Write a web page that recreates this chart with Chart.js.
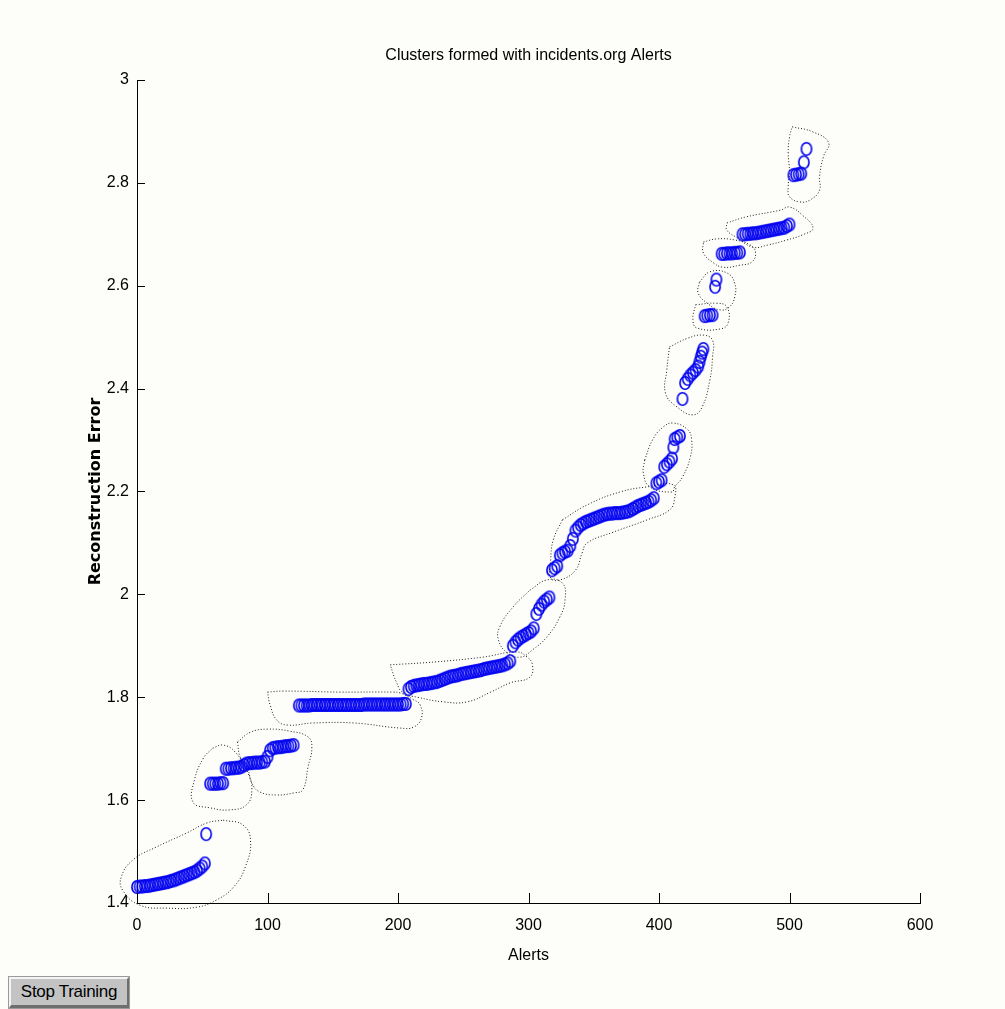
<!DOCTYPE html>
<html>
<head>
<meta charset="utf-8">
<title>Clusters formed with incidents.org Alerts</title>
<script src="https://cdn.jsdelivr.net/npm/chart.js@4"></script>
<style>
  html, body { margin: 0; padding: 0; background: #fdfdf9; }
  #wrap { position: relative; width: 1005px; height: 1009px; overflow: hidden; }
  #chart { position: absolute; left: 0; top: 0; }
  #stopBtn {
    position: absolute; left: 9px; top: 977px; width: 116px; height: 26px;
    background: #c3c3c3; color: #000;
    border-top: 2px solid #f4f4f4; border-left: 2px solid #f4f4f4;
    border-right: 2px solid #6e6e6e; border-bottom: 3px solid #6e6e6e;
    outline: 1px solid #9a9a9a;
    font: 17px "Liberation Sans", Arial, sans-serif;
    line-height: 26px; text-align: center; letter-spacing: -0.3px;
  }
</style>
</head>
<body>
<div id="wrap">
  <canvas id="chart" width="1005" height="1009"></canvas>
  <div id="stopBtn">Stop Training</div>
</div>
<script>
// alerts (x) vs reconstruction error (y), one group per cluster
const cluster1 = [[0,1.431],[2,1.432],[4,1.432],[6,1.433],[8,1.433],[10,1.434],[12,1.435],[14,1.436],[16,1.437],[18,1.438],[20,1.439],[22,1.440],[24,1.441],[26,1.443],[28,1.444],[30,1.446],[32,1.448],[34,1.450],[36,1.452],[38,1.454],[40,1.456],[42,1.458],[44,1.460],[46,1.463],[48,1.467],[50,1.471],[52,1.477],[53,1.534]];
const cluster2 = [[56,1.632],[58,1.632],[60,1.632],[62,1.632],[64,1.633],[66,1.633],[68,1.661],[70,1.661],[72,1.662],[74,1.662],[76,1.663],[78,1.663],[80,1.665],[82,1.668],[84,1.671],[86,1.672],[88,1.672],[90,1.673],[92,1.673],[94,1.673],[96,1.674],[98,1.675],[100,1.684],[102,1.697],[104,1.701],[106,1.702],[108,1.703],[110,1.703],[112,1.704],[114,1.705],[116,1.705],[118,1.706],[120,1.707]];
const cluster3 = [[124,1.784],[126,1.784],[128,1.784],[130,1.784],[132,1.784],[134,1.785],[136,1.785],[138,1.785],[140,1.785],[142,1.785],[144,1.785],[146,1.785],[148,1.785],[150,1.785],[152,1.785],[154,1.785],[156,1.785],[158,1.785],[160,1.785],[162,1.785],[164,1.785],[166,1.785],[168,1.785],[170,1.785],[172,1.785],[174,1.786],[176,1.786],[178,1.786],[180,1.786],[182,1.786],[184,1.786],[186,1.786],[188,1.786],[190,1.786],[192,1.786],[194,1.786],[196,1.786],[198,1.786],[200,1.786],[202,1.786],[204,1.787],[206,1.787]];
const cluster4 = [[208,1.816],[210,1.820],[212,1.822],[214,1.823],[216,1.824],[218,1.825],[220,1.826],[222,1.826],[224,1.827],[226,1.828],[228,1.829],[230,1.830],[232,1.832],[234,1.834],[236,1.836],[238,1.838],[240,1.840],[242,1.841],[244,1.842],[246,1.843],[248,1.845],[250,1.846],[252,1.847],[254,1.848],[256,1.849],[258,1.850],[260,1.851],[262,1.852],[264,1.853],[266,1.855],[268,1.856],[270,1.857],[272,1.858],[274,1.859],[276,1.860],[278,1.861],[280,1.862],[282,1.864],[284,1.866],[286,1.870]];
const cluster5 = [[288,1.900],[290,1.907],[292,1.912],[294,1.916],[296,1.919],[298,1.922],[300,1.925],[302,1.928],[304,1.934],[306,1.962],[308,1.972],[310,1.980],[312,1.986],[314,1.990],[316,1.994]];
const cluster6 = [[318,2.047],[320,2.051],[322,2.055],[324,2.076],[326,2.080],[328,2.083],[330,2.085],[332,2.094],[334,2.108],[336,2.124],[338,2.130],[340,2.135],[342,2.138],[344,2.141],[346,2.143],[348,2.145],[350,2.147],[352,2.149],[354,2.151],[356,2.153],[358,2.155],[360,2.156],[362,2.157],[364,2.157],[366,2.158],[368,2.158],[370,2.158],[372,2.159],[374,2.160],[376,2.161],[378,2.163],[380,2.166],[382,2.169],[384,2.172],[386,2.174],[388,2.176],[390,2.178],[392,2.180],[394,2.183],[396,2.187]];
const cluster7 = [[398,2.216],[400,2.219],[402,2.222],[404,2.248],[406,2.253],[408,2.258],[410,2.264],[411,2.286],[412,2.302],[414,2.305],[416,2.308]];
const cluster8 = [[418,2.380],[420,2.411],[422,2.419],[424,2.426],[426,2.431],[428,2.436],[430,2.443],[431,2.452],[432,2.462],[433,2.470],[434,2.477]];
const cluster9 = [[435,2.541],[437,2.542],[439,2.543],[441,2.543]];
const cluster10 = [[443,2.598],[444,2.612]];
const cluster11 = [[448,2.662],[450,2.662],[452,2.663],[454,2.663],[456,2.663],[458,2.664],[460,2.664],[462,2.665]];
const cluster12 = [[464,2.700],[466,2.700],[468,2.701],[470,2.701],[472,2.702],[474,2.702],[476,2.703],[478,2.704],[480,2.705],[482,2.706],[484,2.707],[486,2.708],[488,2.709],[490,2.710],[492,2.711],[494,2.712],[496,2.713],[498,2.716],[500,2.719]];
const cluster13 = [[503,2.815],[505,2.816],[507,2.817],[509,2.818],[511,2.840],[513,2.866]];

// dotted cluster boundaries, also in (alerts, error) units
const outlineA = [[66,1.561],[81,1.552],[87,1.522],[83,1.470],[74,1.431],[61,1.406],[46,1.392],[23,1.390],[2,1.396],[-11,1.425],[-12,1.451],[-3,1.484],[15,1.509],[38,1.536],[54,1.556]];
const outlineB = [[58,1.701],[66,1.707],[75,1.694],[85,1.653],[88,1.620],[84,1.591],[71,1.581],[56,1.585],[43,1.596],[44,1.639],[51,1.682]];
const outlineC = [[77,1.713],[87,1.732],[100,1.738],[117,1.734],[131,1.723],[134,1.703],[131,1.664],[127,1.620],[120,1.614],[107,1.610],[94,1.616],[88,1.633],[85,1.659],[79,1.684]];
const outlineD = [[100,1.810],[112,1.812],[156,1.810],[196,1.810],[202,1.808],[212,1.795],[217,1.785],[218,1.760],[212,1.742],[202,1.740],[166,1.750],[135,1.750],[115,1.746],[107,1.756],[102,1.785]];
const outlineE = [[194,1.863],[230,1.869],[265,1.878],[291,1.888],[299,1.878],[303,1.863],[301,1.839],[286,1.828],[271,1.810],[253,1.791],[235,1.791],[215,1.800],[204,1.808],[199,1.828]];
const outlineF = [[301,2.008],[314,2.028],[326,2.022],[328,1.989],[324,1.956],[314,1.917],[303,1.892],[294,1.878],[284,1.886],[277,1.911],[278,1.937],[288,1.975]];
const outlineG = [[326,2.145],[345,2.174],[370,2.199],[391,2.209],[411,2.213],[412,2.187],[408,2.164],[391,2.145],[365,2.121],[345,2.100],[341,2.080],[336,2.047],[324,2.028],[317,2.032],[317,2.067],[319,2.106]];
const outlineH = [[389,2.261],[395,2.300],[403,2.325],[411,2.333],[422,2.320],[425,2.300],[424,2.267],[418,2.228],[412,2.209],[410,2.199],[393,2.209],[388,2.236]];
const outlineI = [[408,2.481],[422,2.498],[434,2.504],[441,2.494],[441,2.461],[439,2.417],[433,2.364],[426,2.349],[414,2.364],[405,2.391],[406,2.436]];
const outlineJ = [[428,2.563],[444,2.566],[452,2.559],[453,2.528],[447,2.516],[429,2.518],[426,2.534]];
const outlineK = [[431,2.607],[439,2.627],[452,2.625],[458,2.605],[458,2.578],[454,2.559],[447,2.553],[437,2.566],[430,2.586]];
const outlineL = [[434,2.685],[444,2.691],[458,2.689],[470,2.679],[474,2.664],[471,2.646],[462,2.640],[449,2.636],[441,2.646],[434,2.664]];
const outlineM = [[452,2.722],[467,2.734],[493,2.747],[500,2.753],[510,2.737],[518,2.712],[510,2.699],[498,2.689],[483,2.679],[472,2.675],[460,2.693],[452,2.708]];
const outlineN = [[502,2.909],[518,2.899],[530,2.878],[526,2.851],[523,2.812],[523,2.786],[516,2.767],[508,2.763],[500,2.773],[499,2.792],[500,2.821],[499,2.858],[500,2.889]];

const xTickStep = 100;
const yTickStep = 0.2;

const sans = "'Liberation Sans', Arial, sans-serif";

const clusters = [cluster1, cluster2, cluster3, cluster4, cluster5, cluster6, cluster7,
  cluster8, cluster9, cluster10, cluster11, cluster12, cluster13];
const outlines = [outlineA, outlineB, outlineC, outlineD, outlineE, outlineF, outlineG,
  outlineH, outlineI, outlineJ, outlineK, outlineL, outlineM, outlineN];

const toPoints = (arr) => arr.map(([x, y]) => ({ x, y }));

// the markers in the picture are slightly taller than wide, so use a small ellipse image
function makeMarker() {
  const c = document.createElement("canvas");
  c.width = 14;
  c.height = 16;
  const g = c.getContext("2d");
  g.strokeStyle = "rgb(0,0,240)";
  g.lineWidth = 1.6;
  g.beginPath();
  g.ellipse(7, 8, 5.1, 6.3, 0, 0, Math.PI * 2);
  g.stroke();
  return c;
}

const outlineSets = outlines.map((o) => ({
  data: toPoints(o.concat([o[0]])),
  showLine: true,
  pointRadius: 0,
  borderColor: "#1a1a1a",
  borderWidth: 1,
  borderDash: [1, 2],
  tension: 0.45,
  fill: false,
  clip: false,
  order: 2,
}));

const pointSet = {
  data: toPoints([].concat(...clusters)),
  showLine: false,
  pointStyle: makeMarker(),
  pointRadius: 6,
  clip: false,
  order: 1,
};

// MATLAB style ticks: short marks pointing into the plot
const inwardTicks = {
  id: "inwardTicks",
  afterDraw(chart) {
    const { ctx, scales } = chart;
    const xs = scales.x, ys = scales.y;
    ctx.save();
    ctx.strokeStyle = "#000";
    ctx.lineWidth = 1;
    ctx.beginPath();
    xs.ticks.forEach((t) => {
      const px = Math.round(xs.getPixelForValue(t.value)) + 0.5;
      ctx.moveTo(px, ys.bottom);
      ctx.lineTo(px, ys.bottom - 10);
    });
    ys.ticks.forEach((t) => {
      const py = Math.round(ys.getPixelForValue(t.value)) + 0.5;
      ctx.moveTo(xs.left, py);
      ctx.lineTo(xs.left + 8, py);
    });
    ctx.stroke();
    ctx.restore();
  },
};

new Chart(document.getElementById("chart").getContext("2d"), {
  type: "scatter",
  data: { datasets: [pointSet, ...outlineSets] },
  options: {
    responsive: false,
    animation: false,
    devicePixelRatio: 1,
    events: [],
    layout: { padding: { top: 0, right: 85, bottom: 0, left: 0 } },
    plugins: {
      legend: { display: false },
      tooltip: { enabled: false },
      title: {
        display: true,
        fullSize: false,
        text: "Clusters formed with incidents.org Alerts",
        color: "#000",
        font: { family: sans, size: 16, weight: "normal", lineHeight: 1.2 },
        padding: { top: 46, bottom: 14.8 },
      },
    },
    scales: {
      x: {
        type: "linear",
        min: 0,
        max: 600,
        ticks: {
          stepSize: xTickStep,
          color: "#000",
          padding: 13,
          maxRotation: 0,
          font: { family: sans, size: 16 },
        },
        grid: { display: false, drawTicks: false },
        border: { display: true, color: "#000", width: 1 },
        title: {
          display: true,
          text: "Alerts",
          color: "#000",
          font: { family: sans, size: 16, lineHeight: 1.2 },
          padding: { top: 0, bottom: 44 },
        },
        afterFit(scale) { scale.height = 106; },
      },
      y: {
        type: "linear",
        min: 1.4,
        max: 3,
        ticks: {
          stepSize: yTickStep,
          color: "#000",
          padding: 8,
          font: { family: sans, size: 16 },
          callback: (v) => String(Number(v.toFixed(1))),
        },
        grid: { display: false, drawTicks: false },
        border: { display: true, color: "#000", width: 1 },
        title: {
          display: true,
          text: "Reconstruction Error",
          color: "#000",
          font: { family: "'DejaVu Sans', Verdana, sans-serif", size: 16, weight: "bold", lineHeight: 1.2 },
          padding: { top: 86, bottom: 0 },
        },
        afterFit(scale) { scale.width = 137; },
      },
    },
  },
  plugins: [inwardTicks],
});
</script>
</body>
</html>
